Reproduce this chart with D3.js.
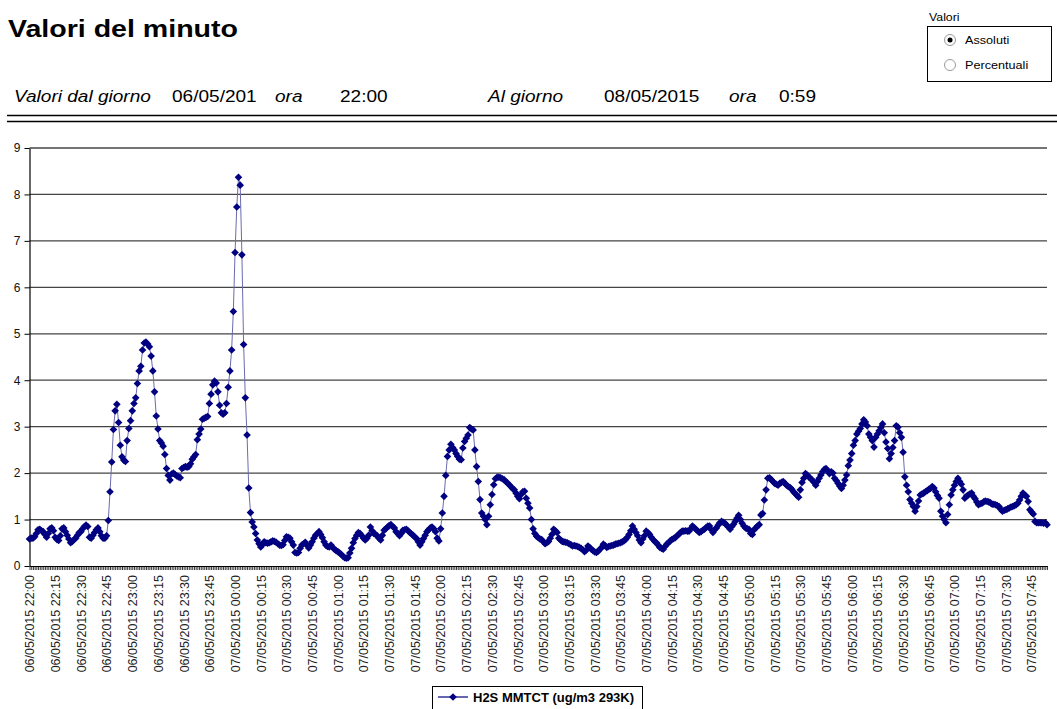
<!DOCTYPE html>
<html>
<head>
<meta charset="utf-8">
<script src="https://cdn.jsdelivr.net/npm/d3@7"></script>
<style>
  body { margin: 0; background: #fff; font-family: "Liberation Sans", Arial, sans-serif; }
  svg { display: block; }
</style>
</head>
<body>
<div id="chart"></div>
<script>
// first sample of the series, one value per minute after it
const startTime = new Date(2015, 4, 6, 22, 0)
const seriesName = "H2S MMTCT (ug/m3 293K)"
const yTicks = [0, 1, 2, 3, 4, 5, 6, 7, 8, 9]
const headerTexts = ["Valori dal giorno", "06/05/201", "ora", "22:00", "Al giorno", "08/05/2015", "ora", "0:59"]
const headerItalic = [true, false, true, false, true, false, true, false]
const radioOptions = ["Assoluti", "Percentuali"]
const radioSelected = 0

// one row = 15 minutes
const h2sValues = [
  0.58,0.6,0.6,0.63,0.7,0.78,0.79,0.76,0.74,0.68,0.62,0.7,0.8,0.82,0.76,
  0.62,0.57,0.55,0.65,0.8,0.82,0.74,0.66,0.58,0.5,0.53,0.57,0.6,0.66,0.72,
  0.74,0.8,0.85,0.88,0.85,0.62,0.6,0.66,0.72,0.78,0.82,0.74,0.65,0.6,0.6,
  0.65,0.98,1.6,2.24,2.94,3.34,3.48,3.09,2.6,2.35,2.28,2.25,2.7,2.96,3.13,
  3.34,3.5,3.62,3.93,4.2,4.3,4.65,4.8,4.82,4.78,4.72,4.52,4.2,3.75,3.23,
  2.95,2.7,2.65,2.58,2.4,2.1,1.95,1.85,1.98,2.0,1.97,1.94,1.92,1.9,2.1,
  2.12,2.14,2.13,2.14,2.2,2.3,2.35,2.4,2.72,2.84,2.95,3.16,3.18,3.2,3.22,
  3.5,3.7,3.9,3.98,3.94,3.75,3.46,3.3,3.27,3.3,3.5,3.85,4.2,4.65,5.48,
  6.75,7.73,8.37,8.2,6.7,4.77,3.62,2.82,1.68,1.15,0.95,0.84,0.7,0.56,0.48,
  0.41,0.46,0.52,0.5,0.49,0.5,0.52,0.54,0.53,0.51,0.48,0.45,0.44,0.46,0.55,
  0.63,0.62,0.6,0.52,0.45,0.29,0.28,0.29,0.38,0.45,0.48,0.51,0.45,0.39,0.45,
  0.52,0.6,0.66,0.7,0.74,0.68,0.61,0.52,0.45,0.42,0.41,0.45,0.4,0.36,0.33,
  0.31,0.28,0.25,0.21,0.18,0.17,0.18,0.28,0.38,0.5,0.59,0.66,0.72,0.7,0.65,
  0.6,0.56,0.6,0.66,0.84,0.76,0.7,0.68,0.65,0.6,0.56,0.66,0.77,0.8,0.84,
  0.87,0.89,0.85,0.82,0.74,0.7,0.65,0.7,0.77,0.78,0.79,0.76,0.72,0.69,0.66,
  0.62,0.59,0.52,0.45,0.52,0.59,0.66,0.74,0.78,0.82,0.84,0.8,0.74,0.6,0.54,
  0.8,1.14,1.5,1.95,2.36,2.5,2.62,2.55,2.5,2.42,2.36,2.3,2.29,2.54,2.68,
  2.75,2.82,2.98,2.95,2.93,2.5,2.14,1.82,1.43,1.14,1.07,1.0,0.89,1.07,1.32,
  1.54,1.75,1.88,1.91,1.91,1.9,1.88,1.86,1.82,1.79,1.75,1.71,1.67,1.64,1.57,
  1.5,1.45,1.54,1.6,1.61,1.46,1.35,1.25,1.0,0.8,0.7,0.64,0.61,0.58,0.57,
  0.52,0.48,0.5,0.53,0.6,0.68,0.79,0.76,0.72,0.6,0.56,0.53,0.52,0.51,0.5,
  0.48,0.46,0.43,0.44,0.43,0.42,0.4,0.38,0.35,0.31,0.34,0.43,0.4,0.36,0.33,
  0.3,0.29,0.32,0.36,0.4,0.47,0.44,0.4,0.42,0.43,0.44,0.45,0.47,0.48,0.49,
  0.5,0.52,0.54,0.57,0.62,0.68,0.76,0.86,0.79,0.72,0.65,0.56,0.5,0.58,0.65,
  0.75,0.72,0.68,0.62,0.57,0.53,0.5,0.45,0.4,0.38,0.36,0.42,0.47,0.5,0.54,
  0.57,0.59,0.61,0.65,0.68,0.72,0.75,0.75,0.76,0.75,0.75,0.8,0.86,0.83,0.79,
  0.76,0.72,0.74,0.77,0.79,0.83,0.86,0.86,0.78,0.72,0.78,0.82,0.88,0.93,0.96,
  0.94,0.92,0.88,0.84,0.79,0.85,0.9,0.96,1.03,1.09,1.0,0.92,0.86,0.82,0.8,
  0.79,0.7,0.68,0.78,0.82,0.86,0.89,1.1,1.13,1.42,1.64,1.89,1.9,1.86,1.82,
  1.78,1.76,1.74,1.78,1.8,1.82,1.78,1.74,1.71,1.69,1.65,1.6,1.56,1.52,1.48,
  1.64,1.8,1.89,1.99,1.96,1.92,1.88,1.85,1.8,1.74,1.82,1.89,1.96,2.03,2.08,
  2.1,2.05,1.99,2.03,2.0,1.89,1.84,1.78,1.72,1.67,1.74,1.85,1.96,2.16,2.28,
  2.42,2.6,2.7,2.84,2.9,2.96,3.06,3.15,3.1,3.02,2.84,2.77,2.7,2.56,2.77,
  2.84,2.91,2.98,3.06,2.87,2.67,2.53,2.31,2.42,2.55,2.7,3.02,2.99,2.87,2.77,
  2.45,1.92,1.74,1.6,1.43,1.35,1.28,1.18,1.28,1.4,1.53,1.55,1.57,1.6,1.62,
  1.65,1.67,1.71,1.68,1.6,1.52,1.46,1.18,1.07,1.0,0.93,1.11,1.32,1.53,1.64,
  1.74,1.82,1.89,1.82,1.76,1.64,1.46,1.5,1.53,1.55,1.57,1.5,1.45,1.38,1.32,
  1.34,1.35,1.38,1.4,1.39,1.38,1.36,1.33,1.33,1.32,1.3,1.28,1.22,1.18,1.2,
  1.21,1.23,1.25,1.27,1.28,1.3,1.32,1.35,1.42,1.5,1.57,1.53,1.5,1.39,1.21,
  1.16,1.12,0.96,0.93,0.93,0.93,0.93,0.92,0.93,0.89
]

const width = 1057, height = 709
const navy = "#000080"
// the page text is a little wider than the font, as in the original report
const stretch = 1.19

const svg = d3.select("#chart").append("svg")
    .attr("width", width)
    .attr("height", height)

// ---- header ----
svg.append("text")
    .attr("transform", `translate(8,37) scale(${stretch},1)`)
    .style("font-size", "24px").style("font-weight", "bold")
    .text("Valori del minuto")

let headerX = [14, 172, 275, 340, 488, 604, 729, 779]
svg.selectAll("text.hdr")
    .data(headerTexts)
    .enter().append("text")
    .attr("class", "hdr")
    .attr("transform", (d, i) => `translate(${headerX[i]},102) scale(${stretch},1)`)
    .style("font-size", "16px")
    .style("font-style", (d, i) => headerItalic[i] ? "italic" : "normal")
    .text(d => d)

svg.append("line").attr("x1", 7).attr("x2", width).attr("y1", 115.5).attr("y2", 115.5)
    .attr("stroke", "#000").attr("stroke-width", 1.4)
svg.append("line").attr("x1", 7).attr("x2", width).attr("y1", 121.5).attr("y2", 121.5)
    .attr("stroke", "#000").attr("stroke-width", 1.4)

// radio group "Valori"
svg.append("text").attr("transform", "translate(929,21) scale(1.12,1)")
    .style("font-size", "11px").text("Valori")
svg.append("rect").attr("x", 927.5).attr("y", 26.5).attr("width", 124).attr("height", 55)
    .attr("fill", "none").attr("stroke", "#000").attr("stroke-width", 1)

let radio = svg.selectAll("g.radio")
    .data(radioOptions)
    .enter().append("g")
    .attr("class", "radio")
    .attr("transform", (d, i) => `translate(950,${40 + i * 25})`)
radio.append("circle").attr("r", 5.5).attr("fill", "#fff").attr("stroke", "#999")
radio.filter((d, i) => i === radioSelected)
    .append("circle").attr("r", 2.5).attr("fill", "#000")
radio.append("text").attr("transform", "translate(15,4) scale(1.15,1)")
    .style("font-size", "11px").text(d => d)

// ---- chart ----
let plot = {left: 29.5, right: 1047, top: 148, bottom: 566}

let times = h2sValues.map((v, i) => d3.timeMinute.offset(startTime, i))

let x = d3.scaleTime()
    .domain([times[0], times[times.length - 1]])
    .range([plot.left, plot.right])

let y = d3.scaleLinear()
    .domain([0, 9])
    .range([plot.bottom, plot.top])

// gridlines
svg.append("g")
    .selectAll("line")
    .data(yTicks.filter(d => d > 0))
    .enter().append("line")
    .attr("x1", plot.left).attr("x2", plot.right)
    .attr("y1", d => y(d)).attr("y2", d => y(d))
    .attr("stroke", "#444").attr("stroke-width", 1.3)

let fmt = d3.timeFormat("%d/%m/%Y %H:%M")

let xAxis = svg.append("g")
    .attr("transform", `translate(0,${plot.bottom})`)
    .call(d3.axisBottom(x)
        .tickValues(times)
        .tickSize(4)
        .tickSizeOuter(0)
        .tickFormat((d, i) => i % 15 === 0 ? fmt(d) : ""))
xAxis.select(".domain").attr("stroke", "#000").attr("stroke-width", 1.2)
xAxis.selectAll(".tick line").attr("stroke", "#000").attr("stroke-width", 0.8)
xAxis.selectAll(".tick text")
    .attr("y", 0).attr("x", -9).attr("dy", "0.35em")
    .attr("transform", "rotate(-90)")
    .style("text-anchor", "end")
    .style("font-size", "12.5px")
    .style("font-family", "'Liberation Sans', Arial, sans-serif")
    .attr("fill", "#222")

let yAxis = svg.append("g")
    .attr("transform", `translate(${plot.left},0)`)
    .call(d3.axisLeft(y)
        .tickValues(yTicks)
        .tickSize(5)
        .tickSizeOuter(0)
        .tickFormat(d3.format("d")))
yAxis.select(".domain").attr("stroke", "#000").attr("stroke-width", 1.2)
yAxis.selectAll(".tick text")
    .attr("x", -9)
    .style("font-size", "12px")
    .style("font-family", "'Liberation Sans', Arial, sans-serif")
    .attr("fill", "#111")

// series line + diamonds
let line = d3.line()
    .x((d, i) => x(times[i]))
    .y(d => y(d))

svg.append("path")
    .datum(h2sValues)
    .attr("d", line)
    .attr("fill", "none")
    .attr("stroke", "#6b6bb0")
    .attr("stroke-width", 1)

let diamond = d3.symbol().type(d3.symbolSquare).size(29)

svg.append("g")
    .selectAll("path")
    .data(h2sValues)
    .enter().append("path")
    .attr("d", diamond)
    .attr("transform", (d, i) => `translate(${x(times[i])},${y(d)}) rotate(45)`)
    .attr("fill", navy)

// ---- legend ----
let legend = svg.append("g").attr("transform", "translate(432,686)")
legend.append("rect").attr("x", 0.5).attr("y", 0.5).attr("width", 210).attr("height", 30)
    .attr("fill", "#fff").attr("stroke", "#000").attr("stroke-width", 1)
legend.append("line").attr("x1", 6).attr("x2", 36).attr("y1", 11).attr("y2", 11)
    .attr("stroke", navy).attr("stroke-width", 1.2)
legend.append("path").attr("d", diamond).attr("transform", "translate(21,11) rotate(45)")
    .attr("fill", navy)
legend.append("text").attr("x", 41).attr("y", 15.5)
    .style("font-size", "13px").style("font-weight", "bold")
    .text(seriesName)
</script>
</body>
</html>
